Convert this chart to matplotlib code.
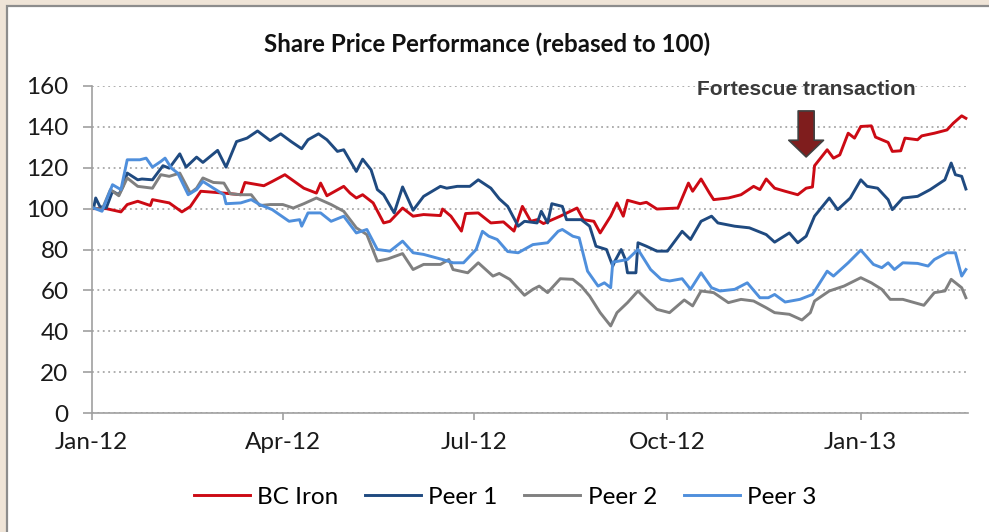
import numpy as np
import pandas as pd
import matplotlib
matplotlib.use('Agg')
import matplotlib.pyplot as plt
import matplotlib.dates as mdates
from matplotlib.patches import Rectangle

# Rebased share prices (Jan-12 = 100)
bc_dates = ['2012-01-02', '2012-01-08', '2012-01-15', '2012-01-18', '2012-01-23', '2012-01-29', '2012-01-30',
            '2012-02-07', '2012-02-13', '2012-02-17', '2012-02-22', '2012-03-04', '2012-03-12', '2012-03-14',
            '2012-03-23', '2012-03-27', '2012-04-02', '2012-04-11', '2012-04-17', '2012-04-19', '2012-04-22',
            '2012-04-30', '2012-05-03', '2012-05-06', '2012-05-09', '2012-05-14', '2012-05-19', '2012-05-22',
            '2012-05-28', '2012-06-02', '2012-06-07', '2012-06-15', '2012-06-16', '2012-06-20', '2012-06-25',
            '2012-06-27', '2012-07-03', '2012-07-09', '2012-07-15', '2012-07-20', '2012-07-24', '2012-07-28',
            '2012-07-31', '2012-08-03', '2012-08-11', '2012-08-19', '2012-08-22', '2012-08-27', '2012-08-30',
            '2012-09-04', '2012-09-07', '2012-09-10', '2012-09-12', '2012-09-18', '2012-09-21', '2012-09-26',
            '2012-10-06', '2012-10-11', '2012-10-13', '2012-10-17', '2012-10-21', '2012-10-23', '2012-10-30',
            '2012-11-05', '2012-11-11', '2012-11-14', '2012-11-17', '2012-11-21', '2012-11-26', '2012-12-02',
            '2012-12-06', '2012-12-09', '2012-12-10', '2012-12-16', '2012-12-19', '2012-12-22', '2012-12-26',
            '2012-12-29', '2013-01-01', '2013-01-06', '2013-01-08', '2013-01-14', '2013-01-16', '2013-01-20',
            '2013-01-22', '2013-01-28', '2013-01-30', '2013-02-05', '2013-02-11', '2013-02-14', '2013-02-18',
            '2013-02-20']
bc_vals = [100, 100, 98.4, 102, 103.6, 101.5, 104.4, 102.8, 98.4, 101,
           108.5, 107.6, 106.8, 112.8, 111.2, 113.3, 116.6, 110, 107.6, 112.5,
           106.3, 110.9, 107.6, 105.2, 106.8, 102.8, 93, 93.8, 100.3, 96.3,
           97.1, 96.6, 99.8, 96.3, 89, 97.6, 97.9, 93, 93.5, 89,
           101.1, 93.8, 94.6, 92.7, 96.3, 100.3, 94.6, 93.8, 88.1, 96.3,
           102.8, 96.3, 104.1, 102.4, 103.1, 99.8, 100.3, 112.5, 108.5, 114.5,
           107.6, 104.4, 105.2, 106.8, 110.9, 109.3, 114.5, 110, 108.5, 106.8,
           110, 110.6, 121, 128.8, 124.7, 126.3, 136.9, 134.5, 140.2, 140.5,
           135, 132.4, 128, 128.3, 134.5, 133.7, 135.6, 136.9, 138.5, 141.8,
           145.4, 144.2]

p1_dates = ['2012-01-02', '2012-01-03', '2012-01-05', '2012-01-08', '2012-01-11', '2012-01-14', '2012-01-16',
            '2012-01-18', '2012-01-23', '2012-01-25', '2012-01-30', '2012-02-04', '2012-02-07', '2012-02-12',
            '2012-02-15', '2012-02-20', '2012-02-23', '2012-03-01', '2012-03-05', '2012-03-10', '2012-03-15',
            '2012-03-20', '2012-03-26', '2012-03-31', '2012-04-05', '2012-04-10', '2012-04-13', '2012-04-18',
            '2012-04-22', '2012-04-27', '2012-04-30', '2012-05-06', '2012-05-09', '2012-05-13', '2012-05-16',
            '2012-05-19', '2012-05-24', '2012-05-28', '2012-06-02', '2012-06-07', '2012-06-15', '2012-06-18',
            '2012-06-23', '2012-06-29', '2012-07-03', '2012-07-09', '2012-07-13', '2012-07-17', '2012-07-22',
            '2012-07-25', '2012-07-31', '2012-08-02', '2012-08-05', '2012-08-07', '2012-08-12', '2012-08-14',
            '2012-08-21', '2012-08-25', '2012-08-28', '2012-09-02', '2012-09-05', '2012-09-06', '2012-09-09',
            '2012-09-11', '2012-09-12', '2012-09-16', '2012-09-17', '2012-09-21', '2012-09-26', '2012-10-01',
            '2012-10-08', '2012-10-12', '2012-10-17', '2012-10-22', '2012-10-25', '2012-11-02', '2012-11-09',
            '2012-11-17', '2012-11-21', '2012-11-28', '2012-12-02', '2012-12-06', '2012-12-10', '2012-12-17',
            '2012-12-21', '2012-12-27', '2013-01-01', '2013-01-04', '2013-01-09', '2013-01-14', '2013-01-16',
            '2013-01-21', '2013-01-28', '2013-02-03', '2013-02-10', '2013-02-13', '2013-02-15', '2013-02-18',
            '2013-02-20']
p1_vals = [100.3, 105.2, 101, 100.3, 108.5, 106.8, 110.9, 117.4, 114.1, 114.5,
           114.1, 121, 119.8, 126.8, 120.3, 125.2, 122.6, 128.5, 120.3, 132.8,
           134.5, 138, 133.3, 136.6, 132.8, 129.3, 133.7, 136.6, 133.7, 128,
           128.8, 118.2, 124.2, 119, 109.3, 106.8, 97.9, 110.6, 99.2, 106,
           110.9, 110, 110.9, 110.9, 114.1, 110, 104.8, 101.1, 91.4, 93.8,
           93, 98.7, 93, 102.4, 101.1, 94.6, 94.6, 91.4, 81.6, 80,
           71.9, 74.3, 80, 75.1, 68.6, 68.6, 83.3, 81.6, 79.2, 79.2,
           88.9, 84.9, 93.8, 96.3, 93, 91.4, 90.6, 87.3, 83.6, 88.1,
           83.3, 86.5, 96.3, 105.2, 99.5, 105.2, 114.1, 110.9, 110, 104.4,
           99.5, 105.2, 106, 109.3, 114.1, 122.3, 116.6, 115.8, 109.6]

p2_dates = ['2012-01-02', '2012-01-06', '2012-01-10', '2012-01-14', '2012-01-18', '2012-01-23', '2012-01-30',
            '2012-02-03', '2012-02-07', '2012-02-12', '2012-02-17', '2012-02-20', '2012-02-23', '2012-02-28',
            '2012-03-04', '2012-03-07', '2012-03-12', '2012-03-17', '2012-03-21', '2012-03-26', '2012-04-01',
            '2012-04-06', '2012-04-11', '2012-04-17', '2012-04-24', '2012-04-30', '2012-05-06', '2012-05-11',
            '2012-05-16', '2012-05-21', '2012-05-28', '2012-06-02', '2012-06-07', '2012-06-15', '2012-06-19',
            '2012-06-21', '2012-06-28', '2012-07-03', '2012-07-10', '2012-07-13', '2012-07-18', '2012-07-25',
            '2012-07-29', '2012-08-01', '2012-08-05', '2012-08-11', '2012-08-17', '2012-08-21', '2012-08-25',
            '2012-08-30', '2012-09-04', '2012-09-07', '2012-09-12', '2012-09-17', '2012-09-21', '2012-09-26',
            '2012-10-02', '2012-10-09', '2012-10-13', '2012-10-17', '2012-10-23', '2012-10-30', '2012-11-05',
            '2012-11-11', '2012-11-17', '2012-11-21', '2012-11-28', '2012-12-04', '2012-12-08', '2012-12-10',
            '2012-12-17', '2012-12-24', '2013-01-01', '2013-01-06', '2013-01-11', '2013-01-15', '2013-01-21',
            '2013-01-31', '2013-02-05', '2013-02-10', '2013-02-13', '2013-02-18', '2013-02-20']
p2_vals = [100.3, 99.5, 109.3, 106.3, 115, 110.9, 110, 116.6, 115.8, 117.4,
           107.6, 110, 115, 112.8, 112.5, 107.3, 106.8, 106.8, 101.5, 102,
           102, 100.3, 102.4, 105.2, 102, 98.7, 90.6, 87.3, 74.3, 75.4,
           78, 70.2, 72.7, 72.7, 75.1, 70.2, 68.6, 73.5, 67, 68.3,
           65.4, 57.6, 60.5, 62.1, 58.9, 65.7, 65.4, 62.1, 57.2, 49.1,
           42.6, 49.1, 54, 59.7, 55.6, 50.7, 49.1, 55.3, 52.4, 59.7,
           58.9, 54, 55.6, 54.8, 51.5, 49.1, 48.3, 45.5, 49.1, 54.8,
           59.7, 62.1, 66.2, 63.7, 60.5, 55.6, 55.6, 52.7, 58.9, 59.7,
           65.4, 61.3, 56.4]

p3_dates = ['2012-01-02', '2012-01-06', '2012-01-11', '2012-01-15', '2012-01-18', '2012-01-24', '2012-01-27',
            '2012-01-30', '2012-02-03', '2012-02-05', '2012-02-08', '2012-02-11', '2012-02-16', '2012-02-20',
            '2012-02-23', '2012-02-28', '2012-03-04', '2012-03-05', '2012-03-12', '2012-03-17', '2012-03-21',
            '2012-03-27', '2012-04-04', '2012-04-09', '2012-04-10', '2012-04-13', '2012-04-19', '2012-04-24',
            '2012-04-30', '2012-05-06', '2012-05-11', '2012-05-16', '2012-05-22', '2012-05-28', '2012-06-02',
            '2012-06-07', '2012-06-16', '2012-06-21', '2012-06-26', '2012-07-02', '2012-07-05', '2012-07-08',
            '2012-07-12', '2012-07-17', '2012-07-22', '2012-07-29', '2012-08-05', '2012-08-10', '2012-08-12',
            '2012-08-17', '2012-08-20', '2012-08-24', '2012-08-29', '2012-09-01', '2012-09-04', '2012-09-05',
            '2012-09-12', '2012-09-17', '2012-09-23', '2012-09-28', '2012-10-02', '2012-10-08', '2012-10-12',
            '2012-10-17', '2012-10-22', '2012-10-26', '2012-11-02', '2012-11-08', '2012-11-14', '2012-11-18',
            '2012-11-21', '2012-11-26', '2012-12-03', '2012-12-09', '2012-12-16', '2012-12-19', '2012-12-26',
            '2013-01-01', '2013-01-07', '2013-01-11', '2013-01-14', '2013-01-17', '2013-01-21', '2013-01-28',
            '2013-02-02', '2013-02-05', '2013-02-11', '2013-02-15', '2013-02-18', '2013-02-20']
p3_vals = [100.3, 98.7, 111.7, 109.3, 123.9, 123.9, 124.7, 120.3, 123.1, 124.7,
           119.8, 117.4, 106.8, 109.3, 113.3, 110, 106.8, 102.4, 102.8, 104.4,
           102, 99.5, 93.8, 94.6, 91.4, 97.9, 97.9, 93.8, 96.3, 88.1,
           89.8, 80, 79.2, 84.1, 78.4, 77.6, 75.1, 73.5, 73.5, 80,
           88.9, 86.5, 84.9, 79, 78.4, 82.4, 83.3, 88.9, 89.8, 86.5,
           85.7, 69.4, 62.1, 63.7, 61.3, 73.8, 75.1, 80, 70.2, 65.4,
           64.6, 65.7, 60.5, 68.6, 61.3, 59.7, 60.5, 63.7, 56.4, 56.4,
           58, 54.3, 55.6, 58, 69.4, 67, 73.5, 79.7, 72.7, 71.1,
           73.5, 70.2, 73.5, 73.2, 71.9, 75.1, 78.4, 78.4, 67, 70.2]

series_names = ['BC Iron', 'Peer 1', 'Peer 2', 'Peer 3']
series_colors = ['#cc0a14', '#1f4a80', '#808080', '#4f8fdc']
tick_dates = ['2012-01-01', '2012-04-01', '2012-07-01', '2012-10-01', '2013-01-01']
fortescue_date = '2012-12-06'

W, H = 989, 532
fig = plt.figure(figsize=(W / 100, H / 100), dpi=100)
fig.patch.set_facecolor('#efe4d7')
# white chart panel with grey frame, behind the axes
fig.add_artist(Rectangle((7 / W, -0.05), 1.1, (H - 6) / H + 0.05, transform=fig.transFigure,
                         facecolor='white', edgecolor='#8c8c8c', linewidth=1.6, zorder=-5))

ax = fig.add_axes([91.5 / W, 119 / H, (968 - 91.5) / W, 327 / H])
ax.patch.set_visible(False)

all_series = [(bc_dates, bc_vals), (p1_dates, p1_vals), (p2_dates, p2_vals), (p3_dates, p3_vals)]
handles = []
for (d, v), name, col in zip(all_series, series_names, series_colors):
    h, = ax.plot(pd.to_datetime(d), v, color=col, lw=2.1, label=name, solid_joinstyle='round')
    handles.append(h)

ax.set_ylim(0, 160)
ax.set_yticks(np.arange(0, 161, 20))
ax.set_xlim(pd.Timestamp('2012-01-01'), pd.Timestamp('2013-02-21'))
ax.set_xticks(pd.to_datetime(tick_dates))
ax.xaxis.set_major_formatter(mdates.DateFormatter('%b-%y'))

ax.yaxis.grid(True, linestyle=(0, (1, 2)), color='#a8a8a8', lw=1.3)
ax.set_axisbelow(True)
for s in ['top', 'right']:
    ax.spines[s].set_visible(False)
for s in ['left', 'bottom']:
    ax.spines[s].set_color('#a0a0a0')
    ax.spines[s].set_linewidth(1.2)

tick_font = 'Lato'
fs = 17.5
ax.tick_params(axis='y', direction='out', length=6.5, width=1.2, color='#a0a0a0', pad=10, labelsize=fs)
ax.tick_params(axis='x', direction='out', length=5, width=1.2, color='#a0a0a0', pad=9, labelsize=fs)
for lab in ax.get_xticklabels() + ax.get_yticklabels():
    lab.set_fontfamily(tick_font)
    lab.set_color('#1a1a1a')

fig.text(487 / W, 1 - 44 / H, 'Share Price Performance (rebased to 100)', ha='center', va='center',
         fontsize=17.4, fontweight='bold', family=tick_font, color='#111111')

# Fortescue transaction marker
fd = pd.Timestamp(fortescue_date)
ax.text(fd, 158.5, 'Fortescue transaction', ha='center', va='center', fontsize=15,
        fontweight='bold', family='Liberation Sans', color='#3a3a3a')
ax.annotate('', xy=(fd, 125.3), xytext=(fd, 147.8),
            arrowprops=dict(arrowstyle='simple,head_width=2.5,head_length=1.2,tail_width=1.15',
                            mutation_scale=10, fc='#7f1d1d', ec='#404040', lw=1.2,
                            shrinkA=0, shrinkB=0))

fig.legend(handles, series_names, loc='center', bbox_to_anchor=(505 / W, 1 - 497 / H), ncol=4,
           frameon=False, prop={'family': tick_font, 'size': fs}, handlelength=2.3,
           handletextpad=0.3, columnspacing=1.1)

fig.savefig('out.png', dpi=100, facecolor=fig.get_facecolor())
